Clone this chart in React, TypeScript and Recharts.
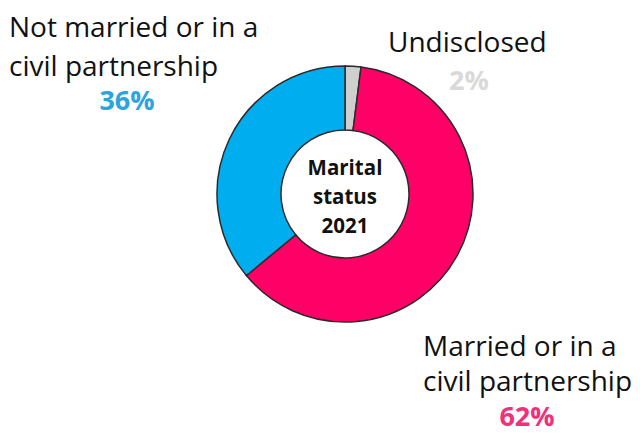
import { Pie, PieChart, Cell } from "recharts";

const categories = ["Undisclosed", "Married or in a civil partnership", "Not married or in a civil partnership"];
const shares = [2, 62, 36];
const sliceColors = ["#cfcfcf", "#ff0066", "#00aeef"];
const labelColors = ["#d9d9d9", "#f0307a", "#2ea3e0"];
const labelLines = [["Undisclosed"], ["Married or in a", "civil partnership"], ["Not married or in a", "civil partnership"]];
const centerLines = ["Marital", "status", "2021"];

const data = categories.map((name, i) => ({ name, value: shares[i] }));

// where each label block sits: x of text lines, x of pct, first baseline, line gap, pct baseline
const labelLayout = [
  { x: 388, px: 469, y: 52, gap: 38, py: 90 },
  { x: 423, px: 527, y: 356, gap: 35, py: 426 },
  { x: 9, px: 127, y: 37, gap: 39, py: 110 },
];

const FONT = "'Open Sans', Lato, sans-serif";

function renderLabel(props: any) {
  const i = props.index;
  const l = labelLayout[i];
  const lines = labelLines[i];
  return (
    <g key={`lbl-${i}`}>
      {lines.map((t, j) => (
        <text key={j} x={l.x} y={l.y + j * l.gap} fontSize={28} fill="#111" fontFamily={FONT} textAnchor="start">
          {t}
        </text>
      ))}
      <text x={l.px} y={l.py} fontSize={27} fontWeight={700} fill={labelColors[i]} fontFamily={FONT} textAnchor="middle">
        {shares[i]}%
      </text>
      {i === 0 &&
        centerLines.map((t, j) => (
          <text key={`c${j}`} x={props.cx} y={props.cy - 19 + j * 29} fontSize={20.5} fontWeight={700} fill="#111" fontFamily={FONT} textAnchor="middle">
            {t}
          </text>
        ))}
    </g>
  );
}

export default function App() {
  return (
    <div style={{ position: "absolute", left: 0, top: 0, width: 640, height: 435, background: "#fff" }}>
      <PieChart width={640} height={435} margin={{ top: 0, right: 0, bottom: 0, left: 0 }}>
        <Pie
          data={data}
          dataKey="value"
          cx={345}
          cy={194}
          innerRadius={64}
          outerRadius={128}
          startAngle={90}
          endAngle={-270}
          stroke="#2a2a2a"
          strokeWidth={1.5}
          label={renderLabel}
          labelLine={false}
          isAnimationActive={false}
        >
          {data.map((d, i) => (
            <Cell key={d.name} fill={sliceColors[i]} />
          ))}
        </Pie>
      </PieChart>
    </div>
  );
}
